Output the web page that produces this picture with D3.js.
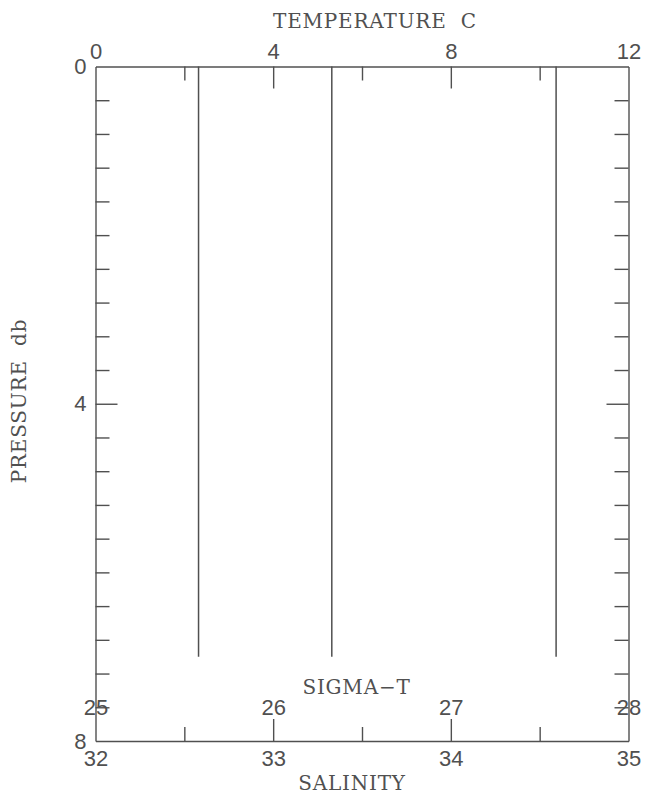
<!DOCTYPE html>
<html>
<head>
<meta charset="utf-8">
<script src="https://cdn.jsdelivr.net/npm/d3@7"></script>
<style>
  html, body { margin: 0; padding: 0; background: #fff; }
  svg { display: block; }
  .tick text { font-family: "Liberation Sans", Arial, sans-serif; font-size: 22px; fill: #505050; }
  .title { font-family: "DejaVu Serif", "Liberation Serif", serif; font-size: 20px; fill: #505050; letter-spacing: 0.8px; }
</style>
</head>
<body>
<script>
// ---- data ----
const pressureDepths = [0, 7];            // db
const temperature = [10.37, 10.37];       // °C
const salinity = [33.33, 33.33];          // psu
const sigmaT = [25.58, 25.58];            // sigma-t

const tempTickLabels = [0, 4, 8, 12];
const tempMajorTicks = [4, 8];
const tempMinorTicks = [2, 6, 10];
const salTickLabels = [32, 33, 34, 35];
const salMajorTicks = [33, 34];
const salMinorTicks = [32.5, 33.5, 34.5];
const sigmaTickLabels = [25, 26, 27, 28];
const pressureTickLabels = [0, 4, 8];
const pressureMajorTicks = [4];
const pressureMinorTicks = [0.4,0.8,1.2,1.6,2.0,2.4,2.8,3.2,3.6,4.4,4.8,5.2,5.6,6.0,6.4,6.8,7.2,7.6];

// ---- layout ----
const W = 646, H = 797;
const pL = 95.5, pR = 628.5, pT = 66.5, pB = 741;
const ink = "#505050";

const svg = d3.select("body").append("svg").attr("width", W).attr("height", H);

const xT = d3.scaleLinear().domain([0, 12]).range([pL, pR]);
const xS = d3.scaleLinear().domain([32, 35]).range([pL, pR]);
const xG = d3.scaleLinear().domain([25, 28]).range([pL, pR]);
const yP = d3.scaleLinear().domain([0, 8]).range([pT, pB]);

function style(g, keepDomain) {
  g.selectAll("line").attr("stroke", ink).attr("stroke-width", 1.4);
  g.selectAll(".domain").attr("stroke", ink).attr("stroke-width", 1.4);
  if (!keepDomain) g.select(".domain").remove();
}

// frame
svg.append("g").attr("transform", `translate(0,${pT})`)
  .call(d3.axisTop(xT).tickValues([]).tickSizeOuter(0)).call(g => style(g, true));
svg.append("g").attr("transform", `translate(0,${pB})`)
  .call(d3.axisBottom(xS).tickValues([]).tickSizeOuter(0)).call(g => style(g, true));
svg.append("g").attr("transform", `translate(${pL},0)`)
  .call(d3.axisLeft(yP).tickValues([]).tickSizeOuter(0)).call(g => style(g, true));
svg.append("g").attr("transform", `translate(${pR},0)`)
  .call(d3.axisRight(yP).tickValues([]).tickSizeOuter(0)).call(g => style(g, true));

// temperature axis (top)
svg.append("g").attr("transform", `translate(0,${pT})`)
  .call(d3.axisTop(xT).tickValues(tempTickLabels).tickSize(0).tickPadding(7.5).tickFormat(d3.format("d")))
  .call(g => style(g, false));
svg.append("g").attr("transform", `translate(0,${pT})`)
  .call(d3.axisTop(xT).tickValues(tempMajorTicks).tickSize(-22).tickFormat(""))
  .call(g => style(g, false));
svg.append("g").attr("transform", `translate(0,${pT})`)
  .call(d3.axisTop(xT).tickValues(tempMinorTicks).tickSize(-14).tickFormat(""))
  .call(g => style(g, false));

// salinity axis (bottom)
svg.append("g").attr("transform", `translate(0,${pB})`)
  .call(d3.axisBottom(xS).tickValues(salTickLabels).tickSize(0).tickPadding(9).tickFormat(d3.format("d")))
  .call(g => style(g, false));
svg.append("g").attr("transform", `translate(0,${pB})`)
  .call(d3.axisBottom(xS).tickValues(salMajorTicks).tickSize(-22).tickFormat(""))
  .call(g => style(g, false));
svg.append("g").attr("transform", `translate(0,${pB})`)
  .call(d3.axisBottom(xS).tickValues(salMinorTicks).tickSize(-14).tickFormat(""))
  .call(g => style(g, false));

// sigma-t labels (inside, above bottom)
svg.append("g").attr("transform", `translate(0,699)`)
  .call(d3.axisBottom(xG).tickValues(sigmaTickLabels).tickSize(0).tickPadding(0).tickFormat(d3.format("d")))
  .call(g => style(g, false));

// pressure axis (left + right)
svg.append("g").attr("transform", `translate(${pL},0)`)
  .call(d3.axisLeft(yP).tickValues(pressureTickLabels).tickSize(0).tickPadding(9).tickFormat(d3.format("d")))
  .call(g => style(g, false));
svg.append("g").attr("transform", `translate(${pL},0)`)
  .call(d3.axisLeft(yP).tickValues(pressureMajorTicks).tickSize(-22).tickFormat(""))
  .call(g => style(g, false));
svg.append("g").attr("transform", `translate(${pL},0)`)
  .call(d3.axisLeft(yP).tickValues(pressureMinorTicks).tickSize(-14).tickFormat(""))
  .call(g => style(g, false));
svg.append("g").attr("transform", `translate(${pR},0)`)
  .call(d3.axisRight(yP).tickValues(pressureMajorTicks).tickSize(-22).tickFormat(""))
  .call(g => style(g, false));
svg.append("g").attr("transform", `translate(${pR},0)`)
  .call(d3.axisRight(yP).tickValues(pressureMinorTicks).tickSize(-14).tickFormat(""))
  .call(g => style(g, false));

// profiles
const profiles = [
  { vals: sigmaT, x: xG },
  { vals: salinity, x: xS },
  { vals: temperature, x: xT }
];
profiles.forEach(p => {
  const pts = pressureDepths.map((d, i) => [p.x(p.vals[i]), yP(d)]);
  svg.append("path")
    .attr("d", d3.line()(pts))
    .attr("fill", "none").attr("stroke", ink).attr("stroke-width", 1.5);
});

// titles
svg.append("text").attr("class", "title").attr("x", 375).attr("y", 27.5)
  .attr("text-anchor", "middle").attr("xml:space", "preserve").text("TEMPERATURE  C");
svg.append("text").attr("class", "title").attr("x", 356.5).attr("y", 693.5)
  .attr("text-anchor", "middle").text("SIGMA\u2212T");
svg.append("text").attr("class", "title").attr("x", 352).attr("y", 790)
  .attr("text-anchor", "middle").text("SALINITY");
svg.append("text").attr("class", "title")
  .attr("transform", "translate(25.5,401) rotate(-90)")
  .attr("text-anchor", "middle").attr("xml:space", "preserve").text("PRESSURE  db");
</script>
</body>
</html>
